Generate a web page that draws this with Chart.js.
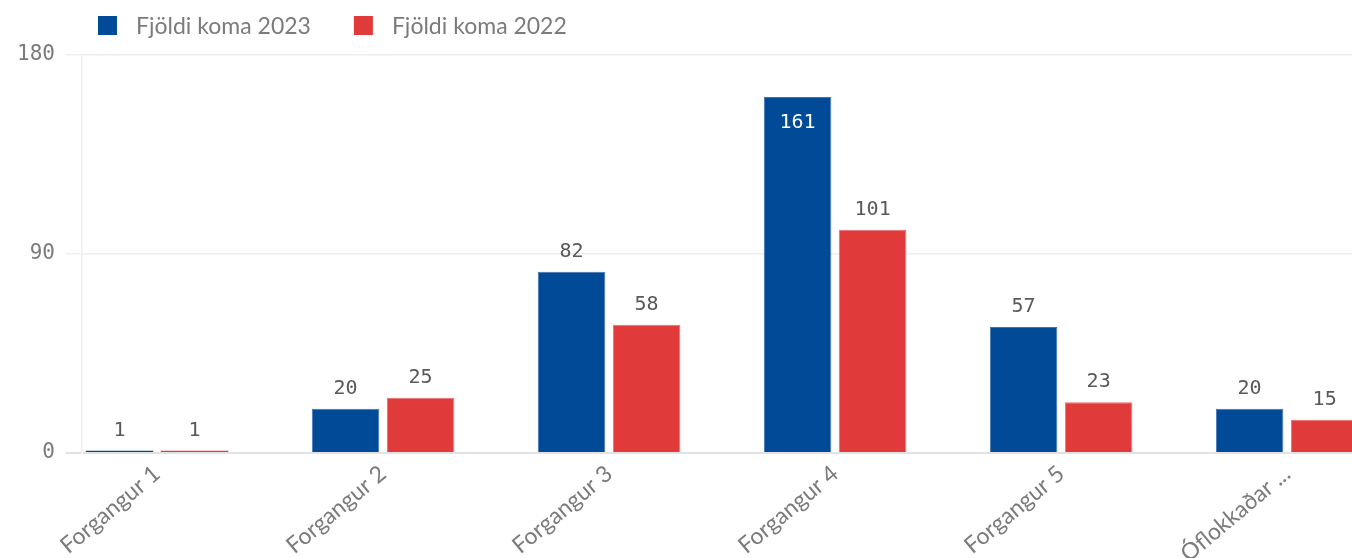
<!DOCTYPE html>
<html>
<head>
<meta charset="utf-8">
<script src="https://cdn.jsdelivr.net/npm/chart.js@4/dist/chart.umd.min.js"></script>
<style>
  html, body { margin: 0; padding: 0; background: #ffffff; overflow: hidden; }
  #wrap { position: relative; width: 1352px; height: 558px; }
</style>
</head>
<body>
<div id="wrap"><canvas id="c" width="1352" height="558"></canvas></div>
<script>
const categories = ["Forgangur 1", "Forgangur 2", "Forgangur 3", "Forgangur 4", "Forgangur 5", "Óflokkaðar ..."];
const seriesNames = ["Fjöldi koma 2023", "Fjöldi koma 2022"];
const values2023 = [1, 20, 82, 161, 57, 20];
const values2022 = [1, 25, 58, 101, 23, 15];
const yTicks = [0, 90, 180];

const BLUE = "#014a98";
const RED = "#e13a3b";
const NUM_FONT = "'DejaVu Sans Mono', monospace";
const TXT_FONT = "Lato, 'Open Sans', sans-serif";

const legendPlugin = {
  id: "customLegend",
  afterDraw(chart) {
    const ctx = chart.ctx;
    ctx.save();
    let x = 98;
    const boxY = 16, box = 19;
    ctx.font = "23px " + TXT_FONT;
    ctx.textBaseline = "alphabetic";
    chart.data.datasets.forEach((ds) => {
      ctx.fillStyle = ds.backgroundColor;
      ctx.fillRect(x, boxY, box, box);
      const tx = x + box + 19;
      ctx.fillStyle = "#7b7b7b";
      ctx.textAlign = "left";
      ctx.fillText(ds.label, tx, 34);
      x = tx + ctx.measureText(ds.label).width + 43;
    });
    ctx.restore();
  }
};

const valueLabelPlugin = {
  id: "valueLabels",
  afterDatasetsDraw(chart) {
    const ctx = chart.ctx;
    const yMax = chart.scales.y.max;
    ctx.save();
    ctx.font = "20px " + NUM_FONT;
    ctx.textAlign = "center";
    chart.data.datasets.forEach((ds, di) => {
      const meta = chart.getDatasetMeta(di);
      meta.data.forEach((bar, i) => {
        const v = ds.data[i].y;
        const inside = v > 0.85 * yMax;
        if (inside) {
          ctx.fillStyle = "#ffffff";
          ctx.textBaseline = "top";
          ctx.fillText(String(v), bar.x, bar.y + 16);
        } else {
          ctx.fillStyle = "#595959";
          ctx.textBaseline = "bottom";
          ctx.fillText(String(v), bar.x, bar.y - 10);
        }
      });
    });
    ctx.restore();
  }
};

const toPoints = (arr) => arr.map((v, i) => ({ x: i, y: v }));
const edgeWidth = (c) => (c.raw && c.raw.y < 5 ? 0 : 1);

new Chart(document.getElementById("c"), {
  type: "bar",
  data: {
    datasets: [
      {
        label: seriesNames[0],
        data: toPoints(values2023),
        backgroundColor: BLUE,
        borderColor: "#3f74b3",
        borderWidth: edgeWidth,
        categoryPercentage: 0.664,
        barPercentage: 0.9
      },
      {
        label: seriesNames[1],
        data: toPoints(values2022),
        backgroundColor: RED,
        borderColor: "#ec6f6f",
        borderWidth: edgeWidth,
        categoryPercentage: 0.664,
        barPercentage: 0.9
      }
    ]
  },
  options: {
    responsive: false,
    animation: false,
    devicePixelRatio: 1,
    layout: { padding: { top: 55, right: 0, left: 0, bottom: 0 } },
    plugins: {
      legend: { display: false },
      tooltip: { enabled: false }
    },
    scales: {
      x: {
        type: "linear",
        offset: false,
        min: -0.332,
        max: 5.287,
        grid: { display: false, drawTicks: false, offset: false },
        border: { display: false },
        afterBuildTicks(scale) {
          scale.ticks = categories.map((_, i) => ({ value: i }));
        },
        afterFit(scale) { scale.height = 105; },
        ticks: {
          autoSkip: false,
          minRotation: 40,
          maxRotation: 40,
          padding: 7,
          color: "#7b7b7b",
          font: { family: TXT_FONT, size: 23 },
          callback: (v) => categories[v] !== undefined ? categories[v] : ""
        }
      },
      y: {
        min: 0,
        max: 180,
        afterBuildTicks(scale) {
          scale.ticks = yTicks.map((v) => ({ value: v }));
        },
        afterFit(scale) { scale.width = 82; },
        grid: {
          color: (c) => c.tick && c.tick.value === 0 ? "#e2e2e2" : "#eeeeee",
          lineWidth: (c) => c.tick && c.tick.value === 0 ? 2 : 1.5,
          tickLength: 16,
          drawTicks: true
        },
        border: { display: true, color: "#eeeeee", width: 1.5 },
        ticks: {
          padding: 11,
          color: "#7b7b7b",
          font: { family: NUM_FONT, size: 21 }
        }
      }
    }
  },
  plugins: [legendPlugin, valueLabelPlugin]
});
</script>
</body>
</html>
